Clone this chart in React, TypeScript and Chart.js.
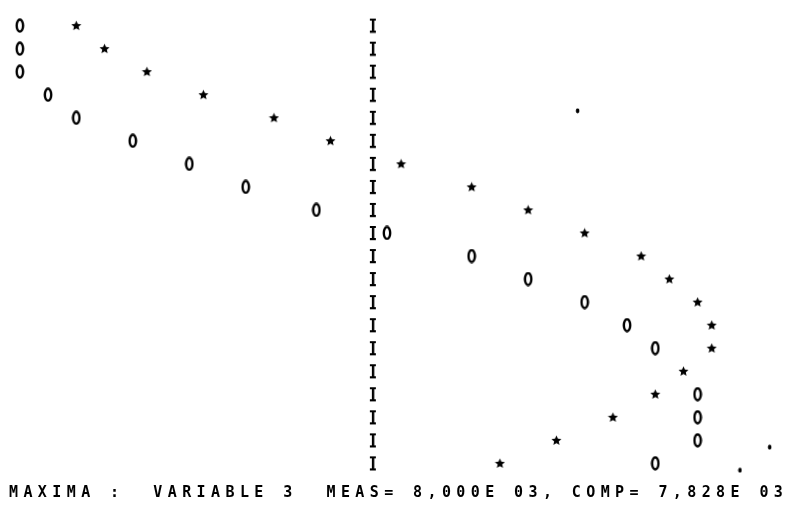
import React, { useEffect, useRef } from "react";
import { Chart, registerables } from "chart.js";

Chart.register(...registerables);

// Line-printer plot: one row per time step, values in printer columns relative to the axis column.
const rowIndex = [0, 1, 2, 3, 4, 5, 6, 7, 8, 9, 10, 11, 12, 13, 14, 15, 16, 17, 18, 19];
// "*" series (measured)
const measured = [-21, -19, -16, -12, -7, -3, 2, 7, 11, 15, 19, 21, 23, 24, 24, 22, 20, 17, 13, 9];
// "0" series (computed); row 15 coincides with the "*" and is overprinted
const computed: (number | null)[] = [-25, -25, -25, -23, -21, -17, -13, -9, -4, 1, 7, 11, 15, 18, 20, null, 23, 23, 23, 20];
// stray printer dots
const dotRows = [3.7, 18.3, 19.3];
const dotValues = [14.5, 28.1, 26.0];
// axis column "I"
const axisValue = 0;

const footerText = "MAXIMA :  VARIABLE 3  MEAS= 8,000E 03, COMP= 7,828E 03";

function makeGlyph(w: number, h: number, draw: (c: CanvasRenderingContext2D) => void) {
  const cv = document.createElement("canvas");
  cv.width = w;
  cv.height = h;
  const c = cv.getContext("2d")!;
  c.fillStyle = "#000";
  c.strokeStyle = "#000";
  draw(c);
  return cv;
}

export default function App() {
  const ref = useRef<HTMLCanvasElement | null>(null);

  useEffect(() => {
    if (!ref.current) return;

    const zeroGlyph = makeGlyph(10, 15, (c) => {
      c.lineWidth = 2.4;
      c.beginPath();
      c.ellipse(5, 7.5, 3.2, 6, 0, 0, Math.PI * 2);
      c.stroke();
    });
    const starGlyph = makeGlyph(11, 11, (c) => {
      c.beginPath();
      for (let i = 0; i < 10; i++) {
        const r = i % 2 === 0 ? 5.3 : 2.4;
        const a = -Math.PI / 2 + (i * Math.PI) / 5;
        const x = 5.5 + r * Math.cos(a);
        const y = 5.8 + r * Math.sin(a);
        if (i === 0) c.moveTo(x, y);
        else c.lineTo(x, y);
      }
      c.closePath();
      c.fill();
    });
    const iGlyph = makeGlyph(8, 16, (c) => {
      c.fillRect(3, 1, 2.4, 14);
      c.fillRect(1, 1, 6, 2);
      c.fillRect(1, 13, 6, 2.2);
    });
    const dotGlyph = makeGlyph(5, 6, (c) => {
      c.beginPath();
      c.ellipse(2.5, 3, 1.8, 2.4, 0, 0, Math.PI * 2);
      c.fill();
    });

    const footerPlugin = {
      id: "footerText",
      afterDraw(chart: any) {
        const ctx = chart.ctx as CanvasRenderingContext2D;
        ctx.save();
        ctx.fillStyle = "#000";
        ctx.font = 'bold 15px "DejaVu Sans Mono"';
        (ctx as any).letterSpacing = "5.4px";
        ctx.textBaseline = "middle";
        ctx.textAlign = "left";
        ctx.fillText(footerText, 9, 493);
        ctx.restore();
      },
    };

    const chart = new Chart(ref.current, {
      type: "scatter",
      data: {
        datasets: [
          {
            label: "AXIS",
            data: rowIndex.map((r) => ({ x: axisValue, y: r })),
            pointStyle: iGlyph as any,
            clip: false as any,
          },
          {
            label: "COMP",
            data: rowIndex
              .map((r, i) => (computed[i] === null ? null : { x: computed[i] as number, y: r }))
              .filter((p) => p !== null) as any,
            pointStyle: zeroGlyph as any,
            clip: false as any,
          },
          {
            label: "MEAS",
            data: rowIndex.map((r, i) => ({ x: measured[i], y: r })),
            pointStyle: starGlyph as any,
            clip: false as any,
          },
          {
            label: "DOTS",
            data: dotRows.map((r, i) => ({ x: dotValues[i], y: r })),
            pointStyle: dotGlyph as any,
            clip: false as any,
          },
        ],
      },
      options: {
        animation: false,
        responsive: true,
        maintainAspectRatio: false,
        layout: { padding: 0 },
        plugins: { legend: { display: false }, tooltip: { enabled: false }, title: { display: false } },
        events: [],
        scales: {
          x: { type: "linear", display: false, min: -26.049, max: 29.755 },
          y: { type: "linear", display: false, reverse: true, min: -0.894, max: 20.72 },
        },
      },
      plugins: [footerPlugin],
    });

    return () => chart.destroy();
  }, []);

  return (
    <div style={{ position: "fixed", left: 0, top: 0, width: 798, height: 508, background: "#fff" }}>
      <canvas ref={ref} style={{ display: "block", width: 798, height: 508 }} />
    </div>
  );
}
